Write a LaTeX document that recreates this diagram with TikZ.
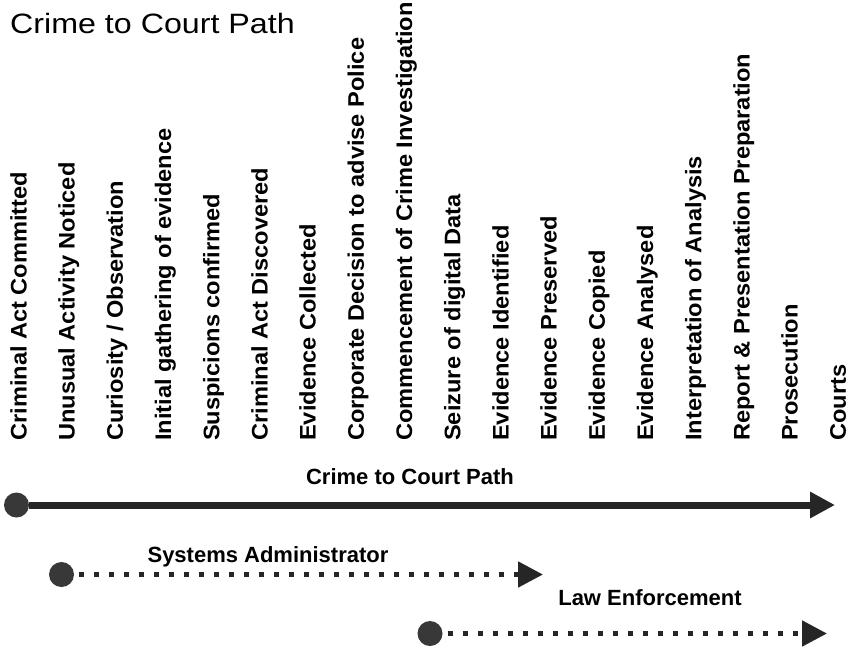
\documentclass[tikz,border=0pt]{standalone}
\usepackage{fontspec}
\setmainfont{Liberation Sans}
\newfontfamily\titlefont[FakeStretch=1.15]{Liberation Sans}
\newfontfamily\colfont[FakeStretch=1.05]{Liberation Sans}
\usetikzlibrary{arrows.meta}
\begin{document}
\begin{tikzpicture}[x=1pt,y=1pt,
  collabel/.style={rotate=90,anchor=base west,inner sep=0pt,font=\colfont\bfseries\fontsize{22.5}{26}\selectfont},
  pathlabel/.style={inner sep=0pt,anchor=base,font=\bfseries\fontsize{22}{26}\selectfont},
  startdot/.style={circle,fill=black!78,minimum size=25pt,inner sep=0pt},
  mainline/.style={line width=7pt,draw=black!85,-{Triangle[length=25pt,width=25pt]}},
  dotline/.style={line width=5pt,draw=black!85,dash pattern=on 5pt off 10pt,dash phase=10pt,-{Triangle[length=25pt,width=25pt]}}
]
\useasboundingbox (0,0) rectangle (850,-646);
\node[anchor=base west,inner sep=0pt,font=\titlefont\fontsize{28}{32}\selectfont] (title) at (10,-33) {Crime to Court Path};
\foreach \t [count=\i] in {Criminal Act Committed, Unusual Activity Noticed, Curiosity / Observation, Initial gathering of evidence, Suspicions confirmed, Criminal Act Discovered, Evidence Collected, Corporate Decision to advise Police, Commencement of Crime Investigation, Seizure of digital Data, Evidence Identified, Evidence Preserved, Evidence Copied, Evidence Analysed, Interpretation of Analysis, Report \& Presentation Preparation, Prosecution, Courts}
  \node[collabel] (c\i) at ({26.5+48.2*(\i-1)},-441) {\t};
% main path
\node[pathlabel] (mlabel) at (410,-484) {Crime to Court Path};
\node[startdot] (mstart) at (16.5,-505) {};
\coordinate (mend) at (835,-505);
\draw[mainline] (mstart) -- (mend);
% systems administrator
\node[pathlabel] (salabel) at (268,-562) {Systems Administrator};
\node[startdot] (sastart) at (61.5,-574.5) {};
\coordinate (saend) at (543,-574.5);
\draw[dotline] (sastart) -- (saend);
% law enforcement
\node[pathlabel] (lelabel) at (650,-605) {Law Enforcement};
\node[startdot] (lestart) at (430,-633.5) {};
\coordinate (leend) at (827,-633.5);
\draw[dotline] (lestart) -- (leend);
\end{tikzpicture}
\end{document}
